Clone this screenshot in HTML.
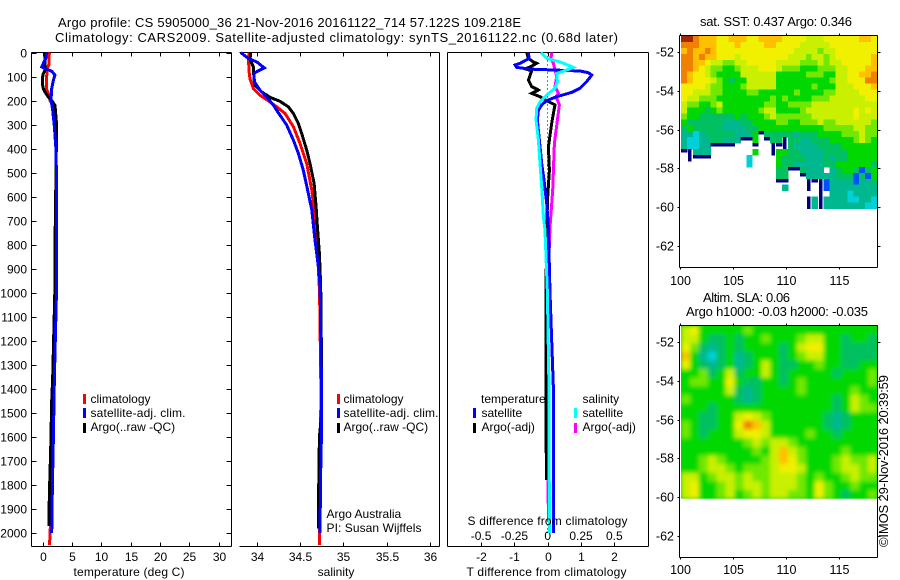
<!DOCTYPE html>
<html lang="en">
<head>
<meta charset="utf-8">
<title>Argo profile CS 5905000_36</title>
<style>
html,body{margin:0;padding:0;background:#fff;}
svg{display:block;}
text{font-family:"Liberation Sans",sans-serif;font-size:12px;fill:#000;}
text.big{font-size:13px;}
.ax{stroke:#000;stroke-width:1;shape-rendering:crispEdges;fill:none;}
.prof{fill:none;stroke-width:3;stroke-linejoin:miter;shape-rendering:crispEdges;}
</style>
</head>
<body>
<svg id="chart" xmlns="http://www.w3.org/2000/svg" width="900" height="580" viewBox="0 0 900 580">
<defs>
<clipPath id="map2clip"><rect x="681" y="325.7" width="196.3" height="173"/></clipPath>
<filter id="map2blur" x="-5%" y="-5%" width="110%" height="110%"><feGaussianBlur stdDeviation="2.2"/></filter>
</defs>
<text class="big" x="58" y="27" textLength="463" lengthAdjust="spacing">Argo profile: CS 5905000_36 21-Nov-2016 20161122_714 57.122S 109.218E</text>
<text class="big" x="55" y="42" textLength="563" lengthAdjust="spacing">Climatology: CARS2009. Satellite-adjusted climatology: synTS_20161122.nc (0.68d later)</text>

<g id="panel-t"></g>
<g id="panel-s"></g>
<g id="panel-d"></g>

<text x="129" y="576" text-anchor="middle" textLength="111" lengthAdjust="spacing">temperature (deg C)</text>
<text x="336" y="576" text-anchor="middle">salinity</text>
<text x="546.5" y="576" text-anchor="middle" textLength="160" lengthAdjust="spacing">T difference from climatology</text>
<text x="547.5" y="525" text-anchor="middle" textLength="160" lengthAdjust="spacing">S difference from climatology</text>

<g>
<rect x="83" y="394" width="3" height="10" fill="#ff0000"/>
<text x="90.5" y="403">climatology</text>
<rect x="83" y="408" width="3" height="10" fill="#0000ff"/>
<text x="90.5" y="417" textLength="95" lengthAdjust="spacing">satellite-adj. clim.</text>
<rect x="83" y="423" width="3" height="10" fill="#000"/>
<text x="90.5" y="431">Argo(..raw -QC)</text>
</g>
<g>
<rect x="337" y="394" width="3" height="10" fill="#ff0000"/>
<text x="343.5" y="403">climatology</text>
<rect x="337" y="408" width="3" height="10" fill="#0000ff"/>
<text x="343.5" y="417" textLength="95" lengthAdjust="spacing">satellite-adj. clim.</text>
<rect x="337" y="423" width="3" height="10" fill="#000"/>
<text x="343.5" y="431">Argo(..raw -QC)</text>
<text x="326.5" y="518">Argo Australia</text>
<text x="326.5" y="532" textLength="95" lengthAdjust="spacing">PI: Susan Wijffels</text>
</g>
<g>
<text x="481" y="403">temperature</text>
<rect x="473" y="408" width="3" height="10" fill="#0000ff"/>
<text x="481.5" y="417">satellite</text>
<rect x="473" y="423" width="3" height="10" fill="#000"/>
<text x="481.5" y="431">Argo(-adj)</text>
<text x="582.5" y="403">salinity</text>
<rect x="574" y="408" width="3" height="10" fill="#00ffff"/>
<text x="582.5" y="417">satellite</text>
<rect x="574" y="423" width="3" height="10" fill="#ff00ff"/>
<text x="582.5" y="431">Argo(-adj)</text>
</g>

<text class="big" x="776" y="26" text-anchor="middle" textLength="152" lengthAdjust="spacing">sat. SST: 0.437 Argo: 0.346</text>
<g id="map-sst"></g>
<text class="big" x="703" y="302" textLength="87" lengthAdjust="spacing">Altim. SLA: 0.06</text>
<text class="big" x="686" y="316" textLength="182" lengthAdjust="spacing">Argo h1000: -0.03 h2000: -0.035</text>
<g id="map-sla"></g>
<text class="big" transform="translate(888,547) rotate(-90)" textLength="172" lengthAdjust="spacing">©IMOS 29-Nov-2016 20:39:59</text>
</svg>

<script>
/* ---------- tick data ---------- */
const depthTicks = [0,100,200,300,400,500,600,700,800,900,1000,1100,1200,1300,1400,1500,1600,1700,1800,1900,2000];
const tempTicks = [0,5,10,15,20,25,30];
const salTicks = [34,34.5,35,35.5,36];
const salTickLabels = ["34","34.5","35","35.5","36"];
const tDiffTicks = [-2,-1,0,1,2];
const tDiffLabels = ["-2","-1","0","1","2"];
const sDiffTicks = [-0.5,-0.25,0,0.25,0.5];
const sDiffLabels = ["-0.5","-0.25","0","0.25","0.5"];
const lonTicks = [100,105,110,115];
const latTicks = [-52,-54,-56,-58,-60,-62];

/* ---------- temperature profiles ---------- */
const climTempDepth = [0,50,60,100,150,170,200,220,300,500,1000,1400,1800,2000,2050];
const climTempValue = [1.16,1.1,0.9,0.7,0.65,1.0,1.3,1.8,2.2,2.35,2.3,2.0,1.6,1.3,1.2];
const argoTempDepth = [0,40,50,70,90,110,130,150,165,185,200,220,300,400,500,770,1000,1350,1450,1650,1850,1970];
const argoTempValue = [0.42,0.42,0.45,0.5,0.1,-0.03,-0.03,0.14,0.42,0.99,1.56,2.13,2.41,2.35,2.3,2.15,2.1,1.73,1.56,1.4,1.16,1.1];
const satTempDepth = [0,25,53,60,70,78,94,115,150,198,240,310,406,503,975,1350,1600,1800,2000];
const satTempValue = [0.71,0.54,0.0,-0.14,0.71,1.56,2.13,1.85,1.56,1.45,1.73,2.02,2.3,2.36,2.41,2.02,1.85,1.68,1.56];

/* ---------- salinity profiles ---------- */
const climSalDepth = [0,25,80,110,150,178,196,226,254,309,379,462,573,684,781,900,1000,1400,1900,2050];
const climSalValue = [33.915,33.904,33.912,33.923,33.962,34.038,34.115,34.231,34.327,34.423,34.5,34.577,34.635,34.673,34.692,34.712,34.725,34.74,34.731,34.723];
const argoSalDepth = [0,30,60,115,136,164,187,203,226,254,296,337,406,462,545,642,725,836,975,1350,1500,1600,1900,1980];
const argoSalValue = [33.931,33.923,33.962,33.969,33.981,34.058,34.154,34.269,34.365,34.423,34.481,34.519,34.577,34.615,34.662,34.685,34.7,34.723,34.738,34.75,34.75,34.723,34.712,34.712];
const satSalDepth = [0,25,39,64,80,87,122,157,185,219,261,302,365,420,490,587,656,781,892,975,1350,1600,1800,2000];
const satSalValue = [33.815,33.904,34,34.088,34,33.969,33.973,34.038,34.115,34.192,34.269,34.346,34.423,34.481,34.538,34.596,34.635,34.673,34.712,34.731,34.746,34.746,34.735,34.731];

/* ---------- differences from climatology ---------- */
const argoTDiffDepth = [0,25,39,45,60,68,76,115,142,156,170,184,200,218,253,295,392,490,600,725,1000,1350,1600,1780];
const argoTDiffValue = [-0.63,-0.58,-0.43,-0.33,-0.53,-0.68,-0.48,-0.58,-0.48,-0.28,-0.48,-0.23,-0.03,0.22,0.17,0.12,0.02,0.05,0,-0.03,-0.05,-0.05,-0.05,-0.03];
const satTDiffDepth = [0,25,45,52,62,69,73,77,84,94,121,149,166,184,200,218,240,281,350,462,531,628,726,1000,1400,2000];
const satTDiffValue = [-0.58,-0.56,-0.83,-0.98,-0.93,-0.53,0.17,0.97,1.22,1.32,1.17,0.97,0.72,0.27,-0.03,-0.18,-0.28,-0.31,-0.26,-0.18,-0.11,-0.03,0.02,0.07,0.17,0.17];
const argoSDiffDepth = [0,25,45,73,101,142,170,184,218,281,378,490,572,669,725,1000,1500,1800,1950];
const argoSDiffValue = [0.03,0.025,0.0425,0.055,0.0675,0.055,0.08,0.0625,0.0875,0.0725,0.05,0.0425,0.0375,0.025,0.0175,0,0,0.003,0.005];
const satSDiffDepth = [0,25,39,62,73,87,121,149,177,205,233,281,364,462,559,684,739,1000,1400,2000];
const satSDiffValue = [-0.0525,-0.0075,0.0925,0.1925,0.1425,0.0675,0.0725,0.055,-0.0075,-0.0575,-0.0825,-0.0875,-0.07,-0.0575,-0.045,-0.0325,-0.02,-0.0025,0.01,0.0125];

/* ---------- SST map: colour-level per cell, -1 = no data ---------- */
const sstLevels = [
[11,11,10,9,9,9,8,8,9,9,9,8,8,9,9,9,9,8,8,8,8,7,7,7,8,8,8,8,8,8,9,9,8],
[10,10,10,9,9,9,8,8,8,9,8,8,8,8,9,9,8,8,8,8,7,7,7,7,7,8,8,8,8,8,8,8,8],
[9,10,9,9,10,9,8,8,8,8,8,8,8,8,8,8,8,8,8,7,7,7,7,6,7,7,8,8,8,8,8,8,8],
[10,10,9,10,9,9,8,8,8,7,8,8,8,8,8,8,8,8,7,7,7,6,7,7,6,7,8,8,8,8,8,8,9],
[10,10,9,9,8,7,7,6,6,7,7,8,8,8,8,8,7,7,7,7,6,6,6,7,6,7,7,8,8,8,8,8,9],
[10,10,9,8,7,6,6,5,5,6,7,7,7,8,8,8,7,6,6,6,5,5,5,6,6,6,7,7,8,8,8,9,9],
[10,9,8,8,7,6,5,5,5,5,7,7,7,7,7,7,5,5,5,5,5,6,6,6,5,5,7,7,8,8,9,9,10],
[10,9,8,8,8,7,6,5,4,5,5,7,7,7,7,7,5,5,5,5,5,5,5,5,5,6,7,7,8,8,8,10,10],
[8,8,8,8,7,6,6,5,5,5,6,7,7,7,7,7,5,5,5,5,5,5,6,5,5,5,7,7,7,8,8,8,9],
[8,8,7,7,7,6,6,5,5,5,5,6,6,5,5,5,5,5,5,6,5,5,5,5,6,6,7,7,7,7,8,8,8],
[8,7,7,6,6,6,5,5,5,5,5,5,5,5,5,6,5,6,5,5,5,5,6,6,6,7,7,7,7,7,7,8,8],
[7,6,6,5,5,6,7,5,5,5,5,5,5,5,6,6,5,5,6,6,6,6,7,7,7,7,7,7,7,7,7,7,7],
[7,5,5,5,4,5,6,5,5,5,5,5,5,6,7,7,5,5,5,5,6,7,7,7,7,7,7,7,7,8,7,8,7],
[6,5,5,4,4,4,4,4,4,5,4,5,5,5,6,7,6,6,6,6,6,6,7,7,7,7,7,7,7,8,7,7,7],
[5,4,4,4,4,4,4,3,3,3,4,4,5,5,5,5,6,6,5,5,6,6,6,7,6,6,7,7,7,7,7,7,6],
[4,5,4,4,4,4,4,3,3,3,3,4,4,5,5,5,5,5,5,5,5,5,5,5,6,6,6,6,6,7,7,6,6],
[3,3,2,3,4,4,4,4,4,3,3,3,5,0,4,4,4,4,4,3,4,4,4,5,5,5,5,6,6,6,7,6,6],
[3,2,2,3,3,4,4,3,3,3,0,0,5,-1,0,4,4,0,4,4,3,3,4,4,4,5,5,5,5,6,7,6,5],
[3,2,2,3,3,0,0,0,0,-1,-1,-1,0,-1,-1,0,0,0,4,3,3,3,3,4,4,4,4,5,5,5,5,5,5],
[0,0,3,3,3,-1,-1,-1,-1,-1,-1,-1,5,-1,-1,0,5,5,4,4,3,3,3,3,4,4,4,4,5,5,5,5,5],
[-1,0,0,0,0,-1,-1,-1,-1,-1,-1,2,-1,-1,-1,-1,5,4,4,4,4,3,3,3,4,3,4,4,5,5,5,5,5],
[-1,-1,-1,-1,-1,-1,-1,-1,-1,-1,-1,2,-1,-1,-1,-1,5,4,4,3,3,3,3,3,4,4,5,5,5,5,5,5,4],
[-1,-1,-1,-1,-1,-1,-1,-1,-1,-1,-1,-1,-1,-1,-1,-1,4,4,0,0,4,3,3,3,-1,3,4,5,5,4,1,4,5],
[-1,-1,-1,-1,-1,-1,-1,-1,-1,-1,-1,-1,-1,-1,-1,-1,4,4,-1,-1,0,3,3,3,3,3,4,4,4,1,4,1,5],
[-1,-1,-1,-1,-1,-1,-1,-1,-1,-1,-1,-1,-1,-1,-1,-1,0,0,-1,-1,-1,0,0,0,1,3,3,3,3,1,3,3,4],
[-1,-1,-1,-1,-1,-1,-1,-1,-1,-1,-1,-1,-1,-1,-1,-1,-1,3,-1,-1,-1,0,-1,0,1,3,3,3,3,3,3,3,3],
[-1,-1,-1,-1,-1,-1,-1,-1,-1,-1,-1,-1,-1,-1,-1,-1,-1,-1,-1,-1,-1,-1,-1,0,-1,3,3,3,2,3,3,3,3],
[-1,-1,-1,-1,-1,-1,-1,-1,-1,-1,-1,-1,-1,-1,-1,-1,-1,-1,-1,-1,-1,0,3,0,3,3,3,3,2,2,3,3,2],
[-1,-1,-1,-1,-1,-1,-1,-1,-1,-1,-1,-1,-1,-1,-1,-1,-1,-1,-1,-1,-1,0,3,0,3,3,3,3,3,3,3,2,2]
];

/* ---------- SLA map: colour-level per cell ---------- */
const slaLevels = [
[7,8,5,5,5,5,5,6,5,5,5,5,5,5,5,5,5,5,5,5,5,5],
[7,7,5,4,4,5,4,5,5,6,5,5,5,6,7,7,5,5,4,5,5,4],
[8,6,4,3,4,5,4,5,5,5,5,4,5,7,8,8,5,5,4,4,4,4],
[9,5,3,2,4,5,3,4,5,5,5,4,5,6,7,7,5,5,4,4,4,4],
[8,5,4,3,4,5,3,4,5,7,5,4,4,5,5,6,5,5,4,4,5,5],
[5,5,6,4,5,7,4,5,5,7,5,4,5,5,5,5,5,4,5,5,5,6],
[5,6,6,5,5,8,5,4,4,5,5,4,5,6,5,5,5,5,5,5,5,6],
[5,5,5,5,5,7,4,3,4,5,5,5,5,6,5,5,5,5,5,6,5,5],
[6,5,5,5,5,5,4,3,4,5,5,5,5,5,5,5,5,4,5,7,6,5],
[5,5,5,4,5,5,5,5,5,5,5,5,5,5,5,5,5,4,5,7,6,6],
[5,5,4,4,5,5,7,8,7,6,5,5,5,5,5,5,4,3,4,5,5,5],
[6,5,4,4,5,5,8,10,9,7,5,5,5,5,5,5,4,3,4,5,5,5],
[6,5,4,5,5,5,7,8,8,7,5,5,5,5,6,5,5,4,5,5,5,5],
[5,5,5,5,5,5,5,6,7,6,7,7,6,5,5,5,5,5,5,5,5,5],
[5,5,5,5,5,5,5,5,6,5,7,9,7,6,5,5,5,5,6,5,5,5],
[5,5,6,7,6,5,5,5,5,6,7,9,8,6,5,5,5,6,7,6,6,7],
[5,5,6,7,7,6,5,6,6,6,7,8,8,7,5,5,5,6,7,7,6,7],
[7,7,5,6,7,7,6,7,6,6,7,7,7,6,5,6,5,5,6,7,6,6],
[7,8,5,5,6,7,6,7,7,6,7,7,7,6,5,8,6,5,5,6,5,5],
[7,8,5,5,6,7,5,6,7,6,7,7,6,6,5,8,6,5,4,5,5,6]
];

/* colour for each map level, lowest to highest */
const levelColors = ["#00007f","#0050ff","#00d0d8","#00b890","#00c060","#00d800","#70e800","#c8f000","#f0f000","#ffc000","#f08000","#a02800"];

/* ---------- axis functions ---------- */
const NS = "http://www.w3.org/2000/svg";
const yDepth = d => 52.5 + 0.2403 * d;
const xTemp = v => 42.5 + 5.87 * v;
const xSal = v => 256.7 + 86.7 * (v - 34);
const xTDiff = v => 547.7 + 33.3 * v;
const xSDiff = v => 547.7 + 133.2 * v;
const xLon = v => 680.3 + 10.55 * (v - 100);
const ySst = v => 51.7 + 19.45 * (-52 - v);
const ySla = v => 341.7 + 19.45 * (-52 - v);

function make(parent, tag, attrs, txt) {
  const el = document.createElementNS(NS, tag);
  for (const k in attrs) el.setAttribute(k, attrs[k]);
  if (txt !== undefined) el.textContent = txt;
  parent.appendChild(el);
  return el;
}
function hline(parent, name, x1, x2, y) {
  const el = make(parent, "line", {x1: x1, x2: x2, y1: y, y2: y, class: "ax"});
  
  
}
function vline(parent, name, x, y1, y2) {
  const el = make(parent, "line", {x1: x, x2: x, y1: y1, y2: y2, class: "ax"});
  
  
}
function label(parent, name, x, y, anchor, str, cls) {
  const el = make(parent, "text", {x: x, y: y, "text-anchor": anchor}, str);
  if (cls) el.setAttribute("style", "font-size:12.5px");
  
  
}
function profile(parent, name, depths, values, xf, color) {
  const pts = depths.map((d, i) => xf(values[i]).toFixed(1) + "," + yDepth(d).toFixed(1)).join(" ");
  const el = make(parent, "polyline", {points: pts, stroke: color, class: "prof"});
  
  
}

const TOP = 52.5, BOT = 546.5;

/* temperature panel */
const pT = document.getElementById("panel-t");
hline(pT, "panel-top-axis", 31.5, 231.5, TOP);
hline(pT, "panel-bottom-axis", 31.5, 231.5, BOT);
vline(pT, "panel-left-axis", 31.5, TOP, BOT);
vline(pT, "panel-right-axis", 231.5, TOP, BOT);
depthTicks.forEach(d => {
  const y = Math.round(yDepth(d)) + 0.5;
  hline(pT, "depth-tick-left", 31.5, 36.5, y);
  hline(pT, "depth-tick-right", 226.5, 231.5, y);
  label(pT, "depth-tick-label", 27, y + 4, "end", String(d));
});
tempTicks.forEach(v => {
  const x = Math.round(xTemp(v)) + 0.5;
  vline(pT, "temperature-tick-top", x, TOP, TOP + 4);
  vline(pT, "temperature-tick-bottom", x, BOT - 4, BOT);
  label(pT, "temperature-tick-label", x, 561, "middle", String(v));
});
profile(pT, "temperature-climatology-line", climTempDepth, climTempValue, xTemp, "#ff0000");
profile(pT, "temperature-argo-line", argoTempDepth, argoTempValue, xTemp, "#000000");
profile(pT, "temperature-satellite-line", satTempDepth, satTempValue, xTemp, "#0000ff");

/* salinity panel */
const pS = document.getElementById("panel-s");
hline(pS, "panel-top-axis", 239.5, 439.5, TOP);
hline(pS, "panel-bottom-axis", 239.5, 439.5, BOT);
vline(pS, "panel-right-axis", 439.5, TOP, BOT);
salTicks.forEach((v, i) => {
  const x = Math.round(xSal(v)) + 0.5;
  vline(pS, "salinity-tick-top", x, TOP, TOP + 4);
  vline(pS, "salinity-tick-bottom", x, BOT - 4, BOT);
  label(pS, "salinity-tick-label", x, 561, "middle", salTickLabels[i]);
});
profile(pS, "salinity-climatology-line", climSalDepth, climSalValue, xSal, "#ff0000");
profile(pS, "salinity-argo-line", argoSalDepth, argoSalValue, xSal, "#000000");
profile(pS, "salinity-satellite-line", satSalDepth, satSalValue, xSal, "#0000ff");

/* difference panel */
const pD = document.getElementById("panel-d");
hline(pD, "panel-top-axis", 447.5, 648.5, TOP);
hline(pD, "panel-bottom-axis", 447.5, 648.5, BOT);
vline(pD, "panel-left-axis", 447.5, TOP, BOT);
vline(pD, "panel-right-axis", 648.5, TOP, BOT);
tDiffTicks.forEach((v, i) => {
  const x = Math.round(xTDiff(v)) + 0.5;
  vline(pD, "t-difference-tick-top", x, TOP, TOP + 4);
  vline(pD, "t-difference-tick-bottom", x, BOT - 4, BOT);
  label(pD, "t-difference-tick-label", x, 561, "middle", tDiffLabels[i]);
});
sDiffTicks.forEach((v, i) => {
  label(pD, "s-difference-tick-label", xSDiff(v), 540, "middle", sDiffLabels[i]);
});
const zeroLine = make(pD, "line", {x1: xTDiff(0), x2: xTDiff(0), y1: yDepth(0), y2: yDepth(2000), stroke: "#000", "stroke-width": 1, "stroke-dasharray": "1 3", "shape-rendering": "crispEdges"});


profile(pD, "s-difference-argo-line", argoSDiffDepth, argoSDiffValue, xSDiff, "#ff00ff");
profile(pD, "t-difference-argo-line", argoTDiffDepth, argoTDiffValue, xTDiff, "#000000");
profile(pD, "t-difference-satellite-line", satTDiffDepth, satTDiffValue, xTDiff, "#0000ff");
profile(pD, "s-difference-satellite-line", satSDiffDepth, satSDiffValue, xSDiff, "#00ffff");

/* maps */
function drawCells(parent, levels, yf, lonStart, dLon, latStart, dLat, cellName) {
  levels.forEach((row, r) => {
    row.forEach((lv, c) => {
      if (lv < 0) return;
      const x0 = xLon(lonStart + c * dLon), x1 = xLon(lonStart + (c + 1) * dLon);
      const y0 = yf(latStart - r * dLat), y1 = yf(latStart - (r + 1) * dLat);
      let w = x1 - x0 + 0.4, h = y1 - y0 + 0.4, x = x0;
      if (lv === 0) {
        /* no-data edge cells are thin: narrow in vertical runs, short otherwise */
        const above = r > 0 && levels[r - 1][c] === 0;
        const below = r + 1 < levels.length && levels[r + 1][c] === 0;
        if (above || below) { w = w * 0.55; x = x0 + (x1 - x0) * 0.2; }
        else { h = h * 0.55; }
      }
      const cell = make(parent, "rect", {x: x.toFixed(2), y: y0.toFixed(2), width: w.toFixed(2), height: h.toFixed(2), fill: levelColors[lv]});
      
      
    });
  });
}
function drawMapAxes(g, yf, top, bottom, prefix, labelY) {
  hline(g, prefix + "-top-axis", 679.5, 877.5, top);
  hline(g, prefix + "-bottom-axis", 679.5, 877.5, bottom);
  vline(g, prefix + "-left-axis", 679.5, top, bottom);
  vline(g, prefix + "-right-axis", 877.5, top, bottom);
  lonTicks.forEach(v => {
    const x = Math.round(xLon(v)) + 0.5;
    vline(g, prefix + "-lon-tick-top", x, top - 2, top);
    vline(g, prefix + "-lon-tick-bottom", x, bottom, bottom + 2);
    label(g, prefix + "-lon-tick-label", x, labelY, "middle", String(v), true);
  });
  latTicks.forEach(v => {
    const y = Math.round(yf(v)) + 0.5;
    hline(g, prefix + "-lat-tick-left", 677.5, 679.5, y);
    hline(g, prefix + "-lat-tick-right", 877.5, 880.5, y);
    label(g, prefix + "-lat-tick-label", 674, y + 4, "end", String(v), true);
  });
}

const mSst = document.getElementById("map-sst");
const sstCells = make(mSst, "g", {"shape-rendering": "crispEdges"});


drawCells(sstCells, sstLevels, ySst, 100.07, 0.563, -51.19, 0.306, "sst-cell");
drawMapAxes(mSst, ySst, 35.5, 267.5, "sst-map", 285);

const mSla = document.getElementById("map-sla");
const slaClip = make(mSla, "g", {"clip-path": "url(#map2clip)"});


const slaBase = make(slaClip, "rect", {x: 681, y: 325.7, width: 196.3, height: 173, fill: levelColors[5]});


const slaCells = make(slaClip, "g", {filter: "url(#map2blur)"});


drawCells(slaCells, slaLevels, ySla, 100.07, 0.8445, -51.18, 0.4445, "sla-cell");
drawMapAxes(mSla, ySla, 325.5, 557.5, "sla-map", 574);
</script>
</body>
</html>
